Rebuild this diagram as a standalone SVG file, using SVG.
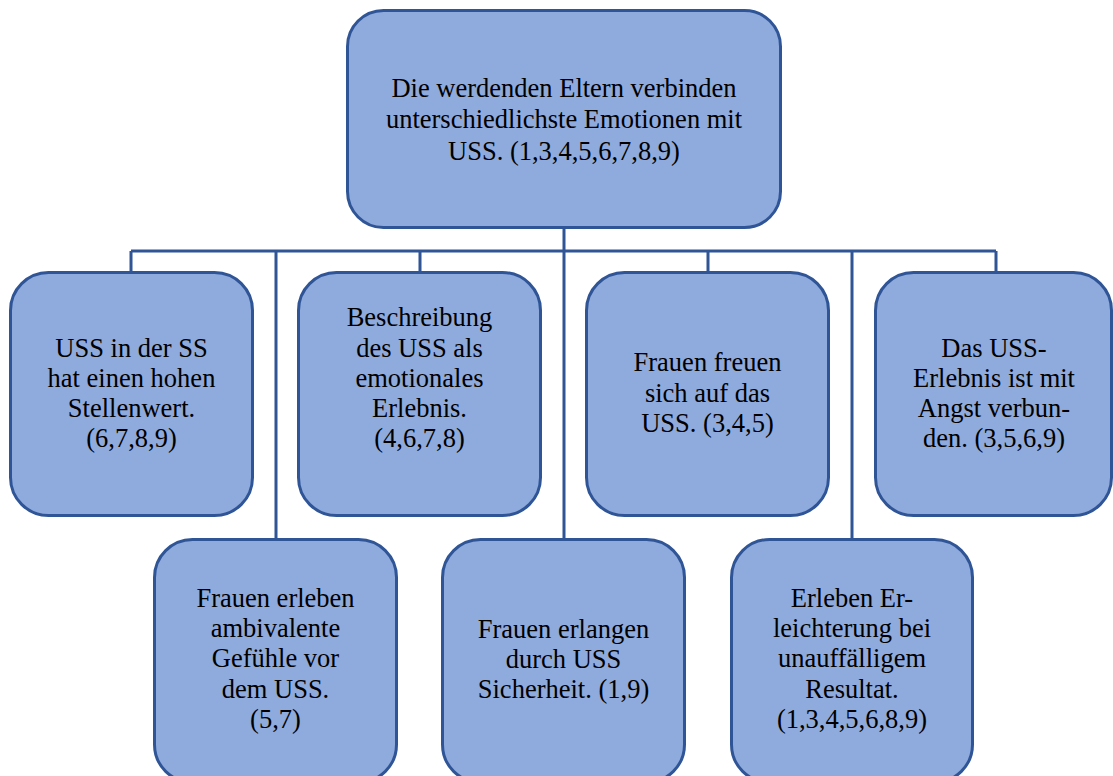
<svg xmlns="http://www.w3.org/2000/svg" width="1113" height="776" viewBox="0 0 1113 776">
<style>
.box{fill:#8FAADC;stroke:#2F5597;stroke-width:3}
.conn{fill:none;stroke:#2F5597;stroke-width:3}
.t{font-family:'Liberation Serif','Times New Roman',serif;font-size:26.5px;fill:#000;text-anchor:middle}
</style>
<rect width="1113" height="776" fill="#fff"/>
<g id="connectors" class="conn">
<path d="M564 228V251M131 251H996M131 251V272M420 251V272M708 251V272M996 251V272M276 251V539M564 251V539M852 251V539"/>
</g>
<g id="root" class="t">
<rect class="box" x="347.5" y="10.5" width="433" height="217" rx="36"/>
<text x="564" y="97">Die werdenden Eltern verbinden</text>
<text x="564" y="128">unterschiedlichste Emotionen mit</text>
<text x="564" y="160">USS. (1,3,4,5,6,7,8,9)</text>
</g>
<g id="n1" class="t">
<rect class="box" x="10.5" y="272.5" width="242" height="243" rx="38"/>
<text x="131.5" y="357">USS in der SS</text>
<text x="131.5" y="387">hat einen hohen</text>
<text x="131.5" y="417">Stellenwert.</text>
<text x="131.5" y="447">(6,7,8,9)</text>
</g>
<g id="n2" class="t">
<rect class="box" x="298.5" y="272.5" width="242" height="243" rx="38"/>
<text x="419.5" y="326">Beschreibung</text>
<text x="419.5" y="357">des USS als</text>
<text x="419.5" y="387">emotionales</text>
<text x="419.5" y="417">Erlebnis.</text>
<text x="419.5" y="447">(4,6,7,8)</text>
</g>
<g id="n3" class="t">
<rect class="box" x="586.5" y="272.5" width="242" height="243" rx="38"/>
<text x="707.5" y="371">Frauen freuen</text>
<text x="707.5" y="402">sich auf das</text>
<text x="707.5" y="432">USS. (3,4,5)</text>
</g>
<g id="n4" class="t">
<rect class="box" x="875.5" y="272.5" width="236" height="243" rx="38"/>
<text x="994" y="357">Das USS-</text>
<text x="994" y="387">Erlebnis ist mit</text>
<text x="994" y="417">Angst verbun-</text>
<text x="994" y="447">den. (3,5,6,9)</text>
</g>
<g id="n5" class="t">
<rect class="box" x="154.5" y="539.5" width="242" height="243" rx="38"/>
<text x="275.5" y="607">Frauen erleben</text>
<text x="275.5" y="637">ambivalente</text>
<text x="275.5" y="667">Gefühle vor</text>
<text x="275.5" y="698">dem USS.</text>
<text x="275.5" y="728">(5,7)</text>
</g>
<g id="n6" class="t">
<rect class="box" x="442.5" y="539.5" width="242" height="243" rx="38"/>
<text x="563.5" y="638">Frauen erlangen</text>
<text x="563.5" y="668">durch USS</text>
<text x="563.5" y="698">Sicherheit. (1,9)</text>
</g>
<g id="n7" class="t">
<rect class="box" x="731.5" y="539.5" width="241" height="243" rx="38"/>
<text x="852" y="607">Erleben Er-</text>
<text x="852" y="637">leichterung bei</text>
<text x="852" y="667">unauffälligem</text>
<text x="852" y="698">Resultat.</text>
<text x="852" y="728">(1,3,4,5,6,8,9)</text>
</g>
</svg>
